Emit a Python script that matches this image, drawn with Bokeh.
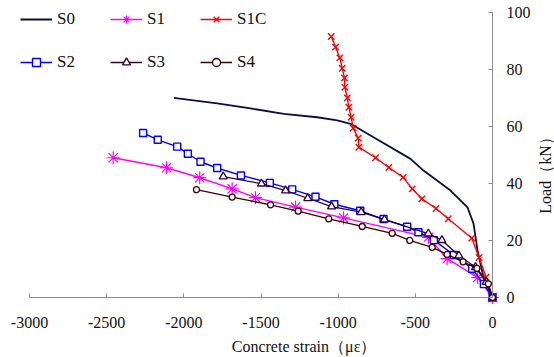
import math
from bokeh.plotting import figure
from bokeh.models import Range1d, FixedTicker, Legend, LegendItem, Label
from bokeh.embed import file_html
from bokeh.resources import INLINE

# ---- data (strain in microstrain, load in kN) ----
s0_x = [-2065, -1784, -1568, -1352, -1136, -1006, -920, -771, -531, -447, -272, -162, -123, -97, -58, 0]
s0_y = [70.0, 68.1, 66.3, 64.4, 63.2, 62.1, 60.9, 56.2, 48.6, 44.5, 37.5, 31.6, 25.9, 16.5, 7.0, 0]

s1_x = [-2458, -2112, -1897, -1687, -1536, -1276, -965, -415, -294, -96, 0]
s1_y = [49.0, 45.5, 42.0, 38.1, 35.0, 31.7, 27.9, 21.1, 13.6, 7.0, 0]

s1c_x = [-1045, -1017, -989, -974, -959, -957, -941, -931, -916, -903, -870, -866,
         -758, -672, -579, -520, -458, -366, -287, -134, -87, -42, 0]
s1c_y = [91.5, 87.8, 84.0, 80.4, 77.0, 73.7, 70.0, 66.7, 63.2, 59.4, 55.9, 52.7,
         49.0, 45.6, 42.1, 38.1, 34.6, 31.2, 27.6, 20.8, 14.0, 7.1, 0]

s2_x = [-2264, -2169, -2043, -1974, -1892, -1784, -1630, -1443, -1298, -1147, -1025,
        -857, -706, -553, -480, -380, -250, -132, -56, 0]
s2_y = [57.7, 55.3, 52.9, 50.4, 47.6, 45.4, 42.8, 40.2, 37.9, 35.3, 32.7,
        30.4, 27.5, 24.8, 22.9, 20.1, 14.9, 10.1, 4.7, 0]

s3_x = [-1745, -1497, -1341, -1197, -1043, -851, -700, -416, -328, -218, -110, -41, 0]
s3_y = [42.4, 39.9, 37.5, 34.8, 31.9, 29.9, 27.3, 22.4, 20.1, 14.7, 10.6, 5.4, 0]

s4_x = [-1918, -1687, -1438, -1259, -1061, -844, -650, -536, -391, -294, -191, -101, -27, 0]
s4_y = [37.8, 35.2, 32.5, 30.3, 27.6, 24.9, 22.5, 20.0, 17.6, 15.1, 12.5, 10.2, 4.8, 0]

x_ticks = [-3000, -2500, -2000, -1500, -1000, -500, 0]
x_tick_labels = ["-3000", "-2500", "-2000", "-1500", "-1000", "-500", "0"]
y_ticks = [0, 20, 40, 60, 80, 100]
y_tick_labels = ["0", "20", "40", "60", "80", "100"]

x_title = "Concrete strain（με）"
y_title = "Load（kN）"

SERIF = "Liberation Serif"
AXIS_GRAY = "#8c8c8c"
TEXT = "#111111"

# The frame spans the whole canvas; the axes sit at x=0 / y=0 of the data.
p = figure(width=554, height=357,
           x_range=Range1d(-3188.0, 401.7), y_range=Range1d(-21.04, 104.14),
           y_axis_location="right",
           output_backend="svg", toolbar_location=None,
           min_border=0, min_border_left=0, min_border_right=0,
           min_border_top=0, min_border_bottom=0)
p.xgrid.visible = False
p.ygrid.visible = False
p.outline_line_color = None
p.background_fill_color = "white"
p.border_fill_color = "white"

for ax, ticks, labels, bounds in ((p.xaxis[0], x_ticks, x_tick_labels, (-3000, 0)),
                                  (p.yaxis[0], y_ticks, y_tick_labels, (0, 100))):
    ax.ticker = FixedTicker(ticks=ticks)
    ax.major_label_overrides = {t: l for t, l in zip(ticks, labels)}
    ax.fixed_location = 0
    ax.bounds = bounds
    ax.axis_line_color = AXIS_GRAY
    ax.major_tick_line_color = AXIS_GRAY
    ax.minor_tick_line_color = None
    ax.major_tick_in = 4
    ax.major_tick_out = 0
    ax.major_label_text_font = SERIF
    ax.major_label_text_font_size = "16px"
    ax.major_label_text_color = TEXT
p.xaxis.major_label_standoff = 20
p.yaxis.major_label_standoff = 14

# ---- series ----
r0 = p.line(s0_x, s0_y, line_color="#0d0d40", line_width=1.8)

l1 = p.line(s1_x, s1_y, line_color="#ff00ff", line_width=1.4)
m1 = p.scatter(s1_x, s1_y, marker="asterisk", size=13, line_color="#ff00ff", line_width=1.2)

l1c = p.line(s1c_x, s1c_y, line_color="#ff0000", line_width=1.4)
m1c = p.scatter(s1c_x, s1c_y, marker="x", size=9, line_color="#ff0000", line_width=1.4)

l2 = p.line(s2_x, s2_y, line_color="#0000ff", line_width=1.4)
m2 = p.scatter(s2_x, s2_y, marker="square", size=7, line_color="#0000ff",
               fill_color="white", line_width=1.4)

l3 = p.line(s3_x, s3_y, line_color="#330033", line_width=1.3)
m3 = p.scatter(s3_x, s3_y, marker="triangle", size=8, line_color="#330033",
               fill_color="white", line_width=1.3)

l4 = p.line(s4_x, s4_y, line_color="#3c0000", line_width=1.3)
m4 = p.scatter(s4_x, s4_y, marker="circle", size=6, line_color="#3c0000",
               fill_color="white", line_width=1.3)


def make_legend(items, loc):
    return Legend(items=items, orientation="horizontal", location=loc,
                  padding=0, margin=0, spacing=33, glyph_width=32, glyph_height=20,
                  label_height=20, label_standoff=5,
                  label_text_font=SERIF, label_text_font_size="17px",
                  label_text_color=TEXT,
                  border_line_alpha=0, background_fill_alpha=0)


leg1 = make_legend([LegendItem(label="S0", renderers=[r0]),
                    LegendItem(label="S1", renderers=[l1, m1]),
                    LegendItem(label="S1C", renderers=[l1c, m1c])], (20, 328))
leg2 = make_legend([LegendItem(label="S2", renderers=[l2, m2]),
                    LegendItem(label="S3", renderers=[l3, m3]),
                    LegendItem(label="S4", renderers=[l4, m4])], (20, 285))
p.add_layout(leg1)
p.add_layout(leg2)

# axis titles
p.add_layout(Label(x=-1221, y=-17.2, text=x_title, text_align="center",
                   text_baseline="middle", text_font=SERIF,
                   text_font_size="16px", text_color=TEXT))
p.add_layout(Label(x=343, y=44.2, text=y_title, angle=math.pi / 2,
                   text_align="center", text_baseline="middle", text_font=SERIF,
                   text_font_size="16px", text_color=TEXT))

open("out.html", "w").write(file_html(p, INLINE))
